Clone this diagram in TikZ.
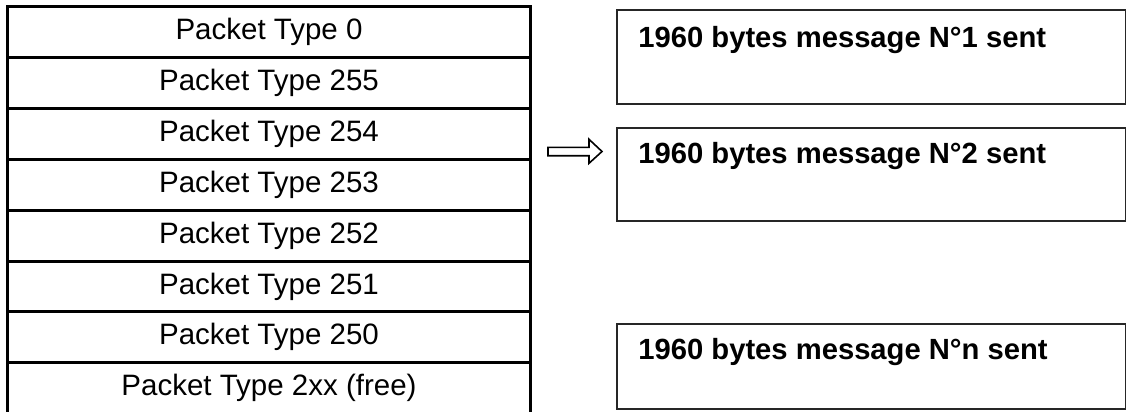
\documentclass[tikz,border=0pt]{standalone}
\usepackage{fontspec}
\setmainfont{Liberation Sans}
\begin{document}
\begin{tikzpicture}[x=0.5pt,y=-0.5pt,
  rowbox/.style={draw=black,line width=1.5pt,minimum width=261.5pt,minimum height=25.45pt,inner sep=0pt,anchor=north west,font=\fontsize{14.75}{16}\selectfont},
  msgbox/.style={draw=black!85,line width=1pt,inner sep=0pt,anchor=north west},
  msgtext/.style={anchor=base west,inner sep=0pt,font=\fontsize{14.6}{16}\selectfont\bfseries},
  hollow/.style={draw=black,line width=0.8pt,fill=white,line join=miter}]
\useasboundingbox (0,0) rectangle (1126,412);
\foreach \i/\t in {0/{Packet Type 0},1/{Packet Type 255},2/{Packet Type 254},3/{Packet Type 253},4/{Packet Type 252},5/{Packet Type 251},6/{Packet Type 250},7/{Packet Type 2xx (free)}}{
  \node[rowbox] (r\i) at (6,{5+\i*50.9}) {\t};
}
\node[msgbox,minimum width=254.5pt,minimum height=47pt] (m1) at (616,9) {};
\node[msgbox,minimum width=254.5pt,minimum height=46.5pt] (m2) at (616,127) {};
\node[msgbox,minimum width=254.5pt,minimum height=42.5pt] (m3) at (616,323) {};
\node[msgtext] (t1) at (638,47) {1960 bytes message N°1 sent};
\node[msgtext] (t2) at (638,163) {1960 bytes message N°2 sent};
\node[msgtext] (t3) at (638,359) {1960 bytes message N°n sent};
\draw[hollow] (548,147.3) -- (589,147.3) -- (589,139.3) -- (602,151.5) -- (589,163.3) -- (589,155.7) -- (548,155.7) -- cycle;
\end{tikzpicture}
\end{document}
